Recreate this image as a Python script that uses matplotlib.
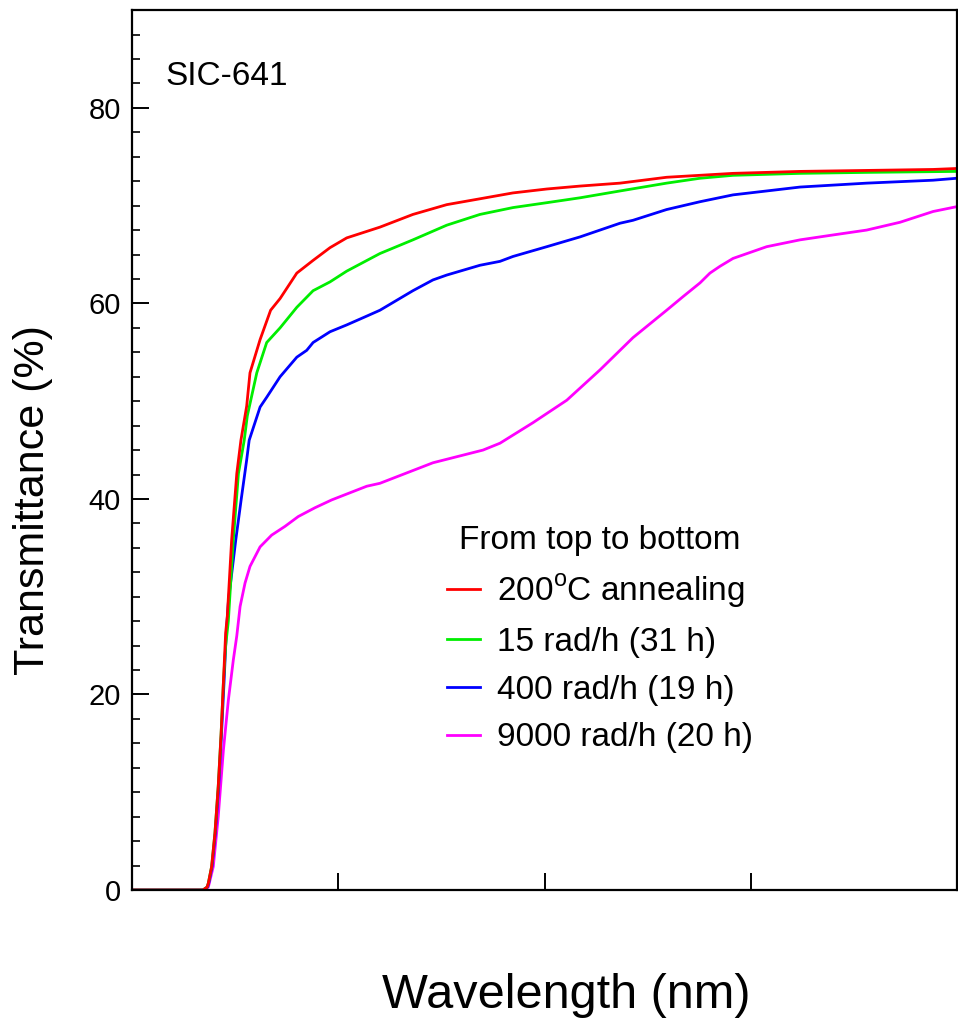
"""Transmittance spectra of SIC-641 after annealing and irradiation."""
import matplotlib
matplotlib.use("Agg")
import matplotlib.pyplot as plt
from matplotlib.ticker import MultipleLocator

plt.rcParams["font.family"] = ["Liberation Sans", "DejaVu Sans"]
plt.rcParams["mathtext.fontset"] = "custom"
plt.rcParams["mathtext.rm"] = "Liberation Sans"

wl_anneal = [300, 334.4, 336.4, 337.0, 338.6, 340.2, 341.8, 343.2, 344.3, 345.4,
             346.2, 348.3, 350.8, 352.8, 355.6, 357.2, 362.1, 367.2, 371.8, 379.9,
             387.8, 396.0, 404.1, 420.2, 436.2, 452.6, 468.7, 484.7, 501.1, 517.2,
             536.6, 559.2, 591.4, 623.9, 656.2, 688.4, 700]
t_anneal = [0, 0, 0.3, 0.7, 2.4, 5.8, 10.6, 16.0, 21.2, 26.3,
            28.0, 35.8, 42.6, 46.0, 49.5, 52.9, 56.3, 59.3, 60.5, 63.1,
            64.4, 65.7, 66.7, 67.8, 69.1, 70.1, 70.7, 71.3, 71.7, 72.0,
            72.3, 72.9, 73.3, 73.5, 73.6, 73.7, 73.8]

wl_15 = [300, 334.4, 336.4, 337.0, 338.6, 340.2, 341.8, 343.2, 344.3, 345.4,
         346.7, 349.1, 351.6, 354.4, 355.9, 360.5, 365.3, 371.8, 379.9, 387.8,
         396.0, 404.1, 420.2, 436.2, 452.6, 468.7, 484.7, 501.1, 517.2, 536.6,
         559.2, 575.4, 591.4, 623.9, 656.2, 700]
t_15 = [0, 0, 0.3, 0.7, 2.4, 5.8, 10.6, 16.0, 21.2, 25.0,
        27.5, 35.8, 42.6, 46.0, 48.5, 52.9, 56.0, 57.5, 59.6, 61.3,
        62.2, 63.3, 65.1, 66.5, 68.0, 69.1, 69.8, 70.3, 70.8, 71.5,
        72.3, 72.8, 73.1, 73.3, 73.4, 73.5]

wl_400 = [300, 334.4, 336.6, 337.2, 338.8, 340.4, 342.0, 343.4, 344.6, 345.7,
          346.8, 350.3, 352.9, 355.6, 356.8, 362.1, 365.3, 371.8, 379.9, 384.7,
          387.8, 396.0, 404.1, 413.8, 420.2, 436.2, 445.9, 452.6, 468.7, 478.4,
          484.7, 501.1, 517.2, 526.9, 536.6, 542.9, 559.2, 575.4, 591.4, 607.7,
          623.9, 656.2, 688.4, 700]
t_400 = [0, 0, 0.3, 0.7, 2.4, 5.8, 10.6, 16.0, 21.2, 26.3,
         29.7, 35.8, 39.9, 44.0, 46.0, 49.4, 50.4, 52.5, 54.5, 55.2,
         56.0, 57.1, 57.8, 58.7, 59.3, 61.3, 62.4, 62.9, 63.9, 64.3,
         64.8, 65.8, 66.8, 67.5, 68.2, 68.5, 69.6, 70.4, 71.1, 71.5,
         71.9, 72.3, 72.6, 72.8]

wl_9000 = [300, 335.0, 337.0, 339.4, 341.8, 344.3, 346.7, 349.1, 350.8, 352.4,
           354.8, 357.2, 362.1, 367.7, 374.2, 380.6, 388.7, 396.8, 413.8, 420.2,
           445.9, 470.2, 478.4, 494.4, 510.8, 526.9, 542.9, 559.2, 567.2, 575.4,
           580.2, 585.1, 591.4, 607.7, 623.9, 639.9, 656.2, 672.4, 688.4, 700]
t_9000 = [0, 0, 0.3, 2.4, 7.5, 14.3, 19.4, 23.5, 26.0, 29.0,
          31.4, 33.1, 35.1, 36.3, 37.2, 38.2, 39.1, 39.9, 41.3, 41.6,
          43.7, 45.0, 45.7, 47.8, 50.1, 53.2, 56.5, 59.3, 60.7, 62.1,
          63.1, 63.8, 64.6, 65.8, 66.5, 67.0, 67.5, 68.3, 69.4, 69.9]

series = [
    (wl_anneal, t_anneal, "#ff0000", "200$^{\\mathrm{o}}$C annealing"),
    (wl_15, t_15, "#00ee00", "15 rad/h (31 h)"),
    (wl_400, t_400, "#0000ff", "400 rad/h (19 h)"),
    (wl_9000, t_9000, "#ff00ff", "9000 rad/h (20 h)"),
]

fig = plt.figure(figsize=(9.58, 10.18), dpi=100)
ax = fig.add_axes([0.1378, 0.1257, 0.8612, 0.8644])

for wl, t, col, lab in reversed(series):
    ax.plot(wl, t, color=col, lw=2.0, label=lab)

ax.set_xlim(300, 700)
ax.set_ylim(0, 90)
ax.set_xticks([400, 500, 600])
ax.set_xticklabels([])
ax.set_yticks([0, 20, 40, 60, 80])
ax.yaxis.set_minor_locator(MultipleLocator(2.5))
ax.tick_params(axis="both", which="major", direction="in", length=12,
               width=1.4, labelsize=21, pad=8)
ax.tick_params(axis="y", which="minor", direction="in", length=6, width=1.2)
for s in ax.spines.values():
    s.set_linewidth(1.6)

ax.text(0.041, 0.924, "SIC-641", transform=ax.transAxes, fontsize=24,
        va="center", ha="left")

handles, labels = ax.get_legend_handles_labels()
leg = ax.legend(handles[::-1], labels[::-1], title="From top to bottom",
                loc="upper left", bbox_to_anchor=(0.345, 0.449), frameon=False,
                fontsize=24, title_fontsize=24, handlelength=1.0,
                handletextpad=0.5, labelspacing=0.5)
for line in leg.get_lines():
    line.set_linewidth(2.0)

fig.text(0.034, 0.509, "Transmittance (%)", rotation=90, fontsize=31,
         ha="center", va="center")
fig.text(0.591, 0.022, "Wavelength (nm)", fontsize=35, ha="center",
         va="center")

fig.savefig("out.png", dpi=100)
